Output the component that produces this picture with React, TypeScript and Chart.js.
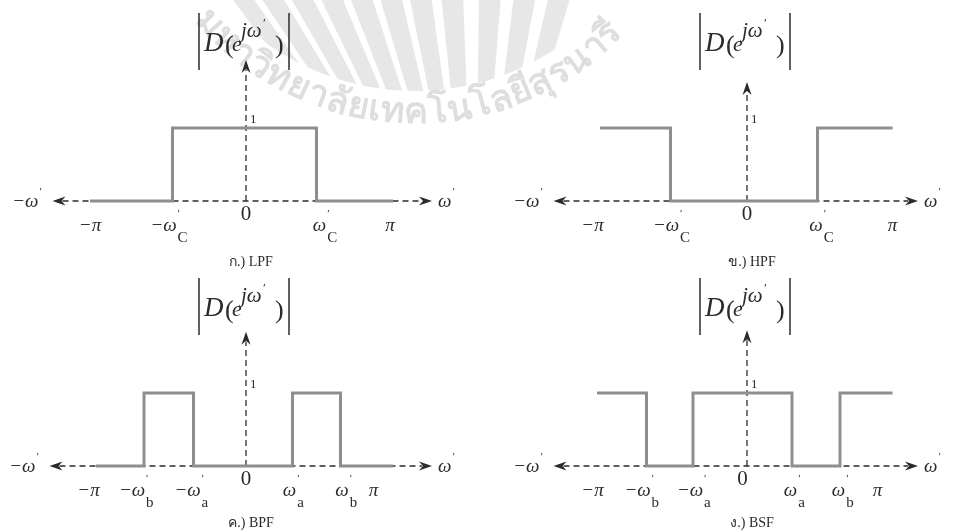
import { useEffect, useRef } from "react";
import { Chart, registerables } from "chart.js";

Chart.register(...registerables);

const W = 970;
const H = 532;

// Frequency axis in units of π (roughly), magnitude axis |D| (1 = passband).

// ก.) LPF
const lpfEdges = [-1.04, -0.49, 0.47, 0.98];
const lpfLevels = [0, 1, 0];
const lpfTickText = ["−π", "−ω", "0", "ω", "π"];
const lpfTickSub = ["", "C", "", "C", ""];
const lpfTickPos = [-1.04, -0.55, 0, 0.49, 0.96];

// ข.) HPF
const hpfEdges = [-0.98, -0.51, 0.47, 0.97];
const hpfLevels = [1, 0, 1];
const hpfTickText = ["−π", "−ω", "0", "ω", "π"];
const hpfTickSub = ["", "C", "", "C", ""];
const hpfTickPos = [-1.03, -0.54, 0, 0.46, 0.97];

// ค.) BPF
const bpfEdges = [-1.0, -0.68, -0.35, 0.31, 0.63, 0.98];
const bpfLevels = [0, 1, 0, 1, 0];
const bpfTickText = ["−π", "−ω", "−ω", "0", "ω", "ω", "π"];
const bpfTickSub = ["", "b", "a", "", "a", "b", ""];
const bpfTickPos = [-1.05, -0.76, -0.39, 0, 0.29, 0.64, 0.85];

// ง.) BSF
const bsfEdges = [-1.0, -0.67, -0.36, 0.3, 0.62, 0.97];
const bsfLevels = [1, 0, 1, 0, 1];
const bsfTickText = ["−π", "−ω", "−ω", "0", "ω", "ω", "π"];
const bsfTickSub = ["", "b", "a", "", "a", "b", ""];
const bsfTickPos = [-1.03, -0.73, -0.38, -0.03, 0.29, 0.61, 0.87];

// Axis extents (arrow tips) for each panel: LPF, HPF, BPF, BSF
const axisLeft = [-1.29, -1.29, -1.31, -1.29];
const axisRight = [1.24, 1.14, 1.24, 1.14];
const axisTop = [1.93, 1.63, 1.84, 1.86];

const captions = ["ก.) LPF", "ข.) HPF", "ค.) BPF", "ง.) BSF"];
const watermarkText = "มหาวิทยาลัยเทคโนโลยีสุรนารี";

type Panel = {
  edges: number[];
  levels: number[];
  tickText: string[];
  tickSub: string[];
  tickPos: number[];
  caption: string;
  left: number;
  right: number;
  top: number;
  xId: string;
  yId: string;
};

const panels: Panel[] = [
  { edges: lpfEdges, levels: lpfLevels, tickText: lpfTickText, tickSub: lpfTickSub, tickPos: lpfTickPos, caption: captions[0], left: axisLeft[0], right: axisRight[0], top: axisTop[0], xId: "x", yId: "y" },
  { edges: hpfEdges, levels: hpfLevels, tickText: hpfTickText, tickSub: hpfTickSub, tickPos: hpfTickPos, caption: captions[1], left: axisLeft[1], right: axisRight[1], top: axisTop[1], xId: "x2", yId: "y" },
  { edges: bpfEdges, levels: bpfLevels, tickText: bpfTickText, tickSub: bpfTickSub, tickPos: bpfTickPos, caption: captions[2], left: axisLeft[2], right: axisRight[2], top: axisTop[2], xId: "x", yId: "y2" },
  { edges: bsfEdges, levels: bsfLevels, tickText: bsfTickText, tickSub: bsfTickSub, tickPos: bsfTickPos, caption: captions[3], left: axisLeft[3], right: axisRight[3], top: axisTop[3], xId: "x2", yId: "y2" },
];

function stepPoints(edges: number[], levels: number[]) {
  const pts: { x: number; y: number }[] = [];
  levels.forEach((lv, i) => {
    pts.push({ x: edges[i], y: lv });
    pts.push({ x: edges[i + 1], y: lv });
  });
  return pts;
}

const SERIF = '"Liberation Serif", "DejaVu Serif", serif';
const INK = "#2b2b2b";

function arrowHead(ctx: CanvasRenderingContext2D, tx: number, ty: number, dx: number, dy: number) {
  const len = 13;
  const hw = 4.5;
  const bx = tx - dx * len;
  const by = ty - dy * len;
  const nx = tx - dx * (len - 4);
  const ny = ty - dy * (len - 4);
  ctx.beginPath();
  ctx.moveTo(tx, ty);
  ctx.lineTo(bx - dy * hw, by + dx * hw);
  ctx.lineTo(nx, ny);
  ctx.lineTo(bx + dy * hw, by - dx * hw);
  ctx.closePath();
  ctx.fill();
}

// Faint emblem behind the top row: a fan of rays and the university name on an arc.
function drawWatermark(ctx: CanvasRenderingContext2D) {
  ctx.save();
  const cx = 415;
  const cy = -165;
  const rText = 278;

  ctx.save();
  ctx.beginPath();
  ctx.arc(cx, cy, rText - 22, 0, Math.PI * 2);
  ctx.clip();
  ctx.fillStyle = "#e7e7e7";
  const fx = 475;
  const fy = 300;
  const tops = [240, 270, 300, 330, 360, 390, 420, 452, 490, 525, 560];
  tops.forEach((tx) => {
    const w = 11;
    ctx.beginPath();
    ctx.moveTo(tx - w, -5);
    ctx.lineTo(tx + w, -5);
    ctx.lineTo(fx + (tx - fx) * 0.05 + 1, fy);
    ctx.lineTo(fx + (tx - fx) * 0.05 - 1, fy);
    ctx.closePath();
    ctx.fill();
  });
  ctx.restore();

  ctx.fillStyle = "#dedede";
  ctx.font = 'bold 36px "Noto Sans", "DejaVu Sans", sans-serif';
  ctx.textAlign = "center";
  ctx.textBaseline = "middle";
  const seg = (Intl as any).Segmenter ? new (Intl as any).Segmenter("th", { granularity: "grapheme" }) : null;
  const clusters: string[] = seg ? Array.from(seg.segment(watermarkText), (s: any) => s.segment) : Array.from(watermarkText);
  let ang = (140 * Math.PI) / 180;
  clusters.forEach((c) => {
    const w = ctx.measureText(c).width;
    const step = w / rText;
    const a = ang - step / 2;
    ctx.save();
    ctx.translate(cx + rText * Math.cos(a), cy + rText * Math.sin(a));
    ctx.rotate(a - Math.PI / 2);
    ctx.fillText(c, 0, 0);
    ctx.restore();
    ang -= step;
  });
  ctx.restore();
}

function drawMathLabel(ctx: CanvasRenderingContext2D, text: string, sub: string, cx: number, cy: number) {
  const size = 19;
  ctx.textBaseline = "middle";
  ctx.textAlign = "left";
  if (text === "0") {
    ctx.font = `21px ${SERIF}`;
    const w = ctx.measureText(text).width;
    ctx.fillText(text, cx - w / 2, cy);
    return;
  }
  ctx.font = `italic ${size}px ${SERIF}`;
  const w = ctx.measureText(text).width;
  ctx.fillText(text, cx - w / 2, cy);
  if (sub) {
    ctx.font = `11px ${SERIF}`;
    ctx.fillText("′", cx + w / 2 + 1, cy - 12);
    ctx.font = `15px ${SERIF}`;
    ctx.fillText(sub, cx + w / 2 + 1, cy + 12);
  }
}

function drawMagnitudeLabel(ctx: CanvasRenderingContext2D, ox: number, top: number) {
  ctx.save();
  ctx.strokeStyle = INK;
  ctx.fillStyle = INK;
  ctx.lineWidth = 1.5;
  ctx.beginPath();
  ctx.moveTo(ox - 47, top);
  ctx.lineTo(ox - 47, top + 57);
  ctx.moveTo(ox + 43, top);
  ctx.lineTo(ox + 43, top + 57);
  ctx.stroke();
  const bl = top + 38;
  ctx.textAlign = "left";
  ctx.textBaseline = "alphabetic";
  ctx.font = `italic 27px ${SERIF}`;
  ctx.fillText("D", ox - 42, bl);
  ctx.font = `26px ${SERIF}`;
  ctx.fillText("(", ox - 21, bl + 2);
  ctx.font = `italic 22px ${SERIF}`;
  ctx.fillText("e", ox - 14, bl);
  ctx.font = `italic 21px ${SERIF}`;
  ctx.fillText("jω", ox - 5, bl - 14);
  ctx.font = `13px ${SERIF}`;
  ctx.fillText("′", ox + 17, bl - 24);
  ctx.font = `26px ${SERIF}`;
  ctx.fillText(")", ox + 29, bl + 2);
  ctx.restore();
}

const filterPlugin = {
  id: "filterAxes",
  beforeDatasetsDraw(chart: any) {
    const ctx: CanvasRenderingContext2D = chart.ctx;
    ctx.save();
    ctx.fillStyle = "#ffffff";
    ctx.fillRect(0, 0, chart.width, chart.height);
    ctx.restore();
    drawWatermark(ctx);
    panels.forEach((p) => {
      const xs = chart.scales[p.xId];
      const ys = chart.scales[p.yId];
      const ox = xs.getPixelForValue(0);
      const oy = ys.getPixelForValue(0);
      const xl = xs.getPixelForValue(p.left);
      const xr = xs.getPixelForValue(p.right);
      const yt = ys.getPixelForValue(p.top);
      ctx.save();
      ctx.strokeStyle = INK;
      ctx.fillStyle = INK;
      ctx.lineWidth = 1.3;
      ctx.setLineDash([6, 4]);
      ctx.beginPath();
      ctx.moveTo(xl + 10, oy);
      ctx.lineTo(xr - 10, oy);
      ctx.moveTo(ox, oy);
      ctx.lineTo(ox, yt + 10);
      ctx.stroke();
      ctx.setLineDash([]);
      arrowHead(ctx, xl, oy, -1, 0);
      arrowHead(ctx, xr, oy, 1, 0);
      arrowHead(ctx, ox, yt, 0, -1);
      ctx.restore();
    });
  },
  afterDatasetsDraw(chart: any) {
    const ctx: CanvasRenderingContext2D = chart.ctx;
    panels.forEach((p, idx) => {
      const xs = chart.scales[p.xId];
      const ys = chart.scales[p.yId];
      const ox = xs.getPixelForValue(0);
      const oy = ys.getPixelForValue(0);
      const xl = xs.getPixelForValue(p.left);
      const xr = xs.getPixelForValue(p.right);
      ctx.save();
      ctx.fillStyle = INK;
      // axis names at both arrow ends
      ctx.textBaseline = "middle";
      ctx.textAlign = "right";
      ctx.font = `italic 19px ${SERIF}`;
      ctx.fillText("−ω", xl - 14, oy + 1);
      ctx.font = `11px ${SERIF}`;
      ctx.textAlign = "left";
      ctx.fillText("′", xl - 13, oy - 9);
      ctx.font = `italic 19px ${SERIF}`;
      ctx.fillText("ω", xr + 6, oy + 1);
      const wr = ctx.measureText("ω").width;
      ctx.font = `11px ${SERIF}`;
      ctx.fillText("′", xr + 7 + wr, oy - 9);
      // magnitude label and unit level
      drawMagnitudeLabel(ctx, ox, oy - 188);
      ctx.font = `13px ${SERIF}`;
      ctx.textAlign = "left";
      ctx.textBaseline = "middle";
      ctx.fillText("1", ox + 4, ys.getPixelForValue(1.12));
      // frequency tick labels
      p.tickText.forEach((t, i) => {
        const px = xs.getPixelForValue(p.tickPos[i]);
        const py = t === "0" ? oy + 13 : oy + 25;
        drawMathLabel(ctx, t, p.tickSub[i], px, py);
      });
      // caption
      ctx.font = `14px ${SERIF}`;
      ctx.textAlign = "center";
      ctx.textBaseline = "middle";
      ctx.fillText(p.caption, ox + 5, oy + (idx < 2 ? 61 : 57));
      ctx.restore();
    });
  },
};

export default function App() {
  const canvasRef = useRef<HTMLCanvasElement | null>(null);

  useEffect(() => {
    const canvas = canvasRef.current;
    if (!canvas) return;
    const datasets = panels.map((p) => ({
      data: stepPoints(p.edges, p.levels),
      xAxisID: p.xId,
      yAxisID: p.yId,
      borderColor: "#8e8e8e",
      borderWidth: 3,
      pointRadius: 0,
      fill: false,
      tension: 0,
      borderJoinStyle: "miter" as const,
    }));
    const chart = new Chart(canvas, {
      type: "line",
      data: { datasets },
      options: {
        animation: false,
        responsive: false,
        layout: { padding: 0 },
        plugins: { legend: { display: false }, tooltip: { enabled: false } },
        events: [],
        scales: {
          x: { type: "linear", display: false, bounds: "data", min: -246 / 150, max: (W - 246) / 150 },
          x2: { type: "linear", display: false, bounds: "data", min: -747 / 150, max: (W - 747) / 150 },
          y: { type: "linear", display: false, bounds: "data", min: -(H - 201) / 73, max: 201 / 73 },
          y2: { type: "linear", display: false, bounds: "data", min: -(H - 466) / 73, max: 466 / 73 },
        },
      },
      plugins: [filterPlugin],
    });
    return () => chart.destroy();
  }, []);

  return (
    <div style={{ position: "fixed", left: 0, top: 0, width: W, height: H, background: "#fff" }}>
      <canvas ref={canvasRef} width={W} height={H} style={{ display: "block", width: W, height: H }} />
    </div>
  );
}
